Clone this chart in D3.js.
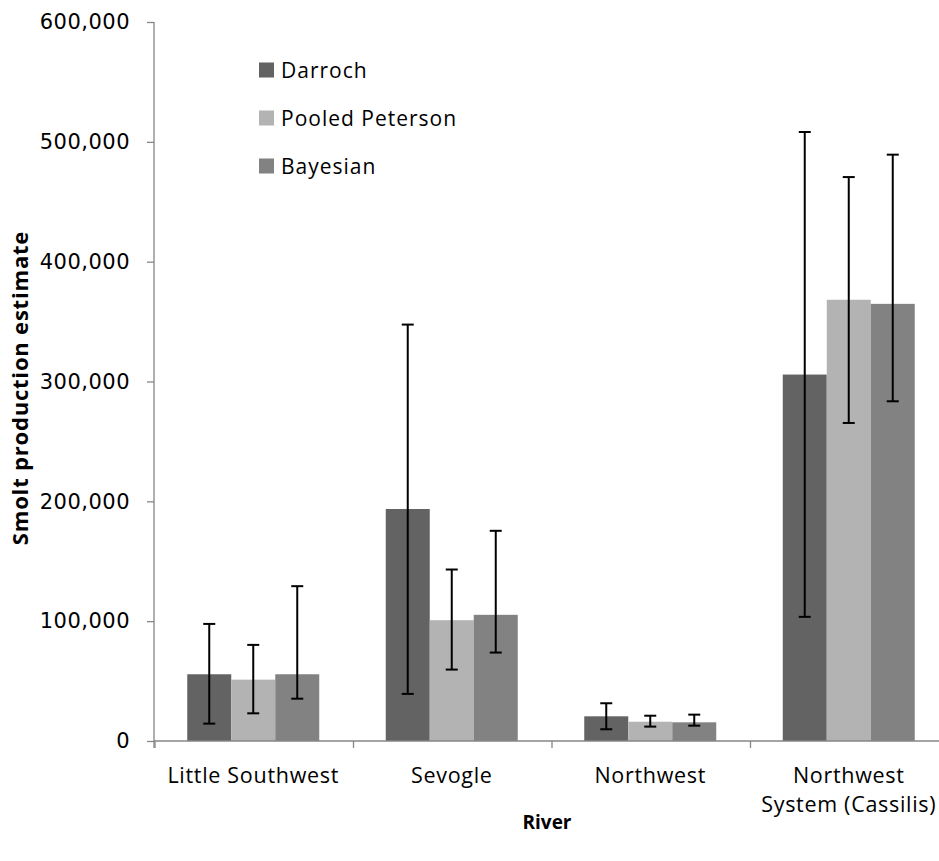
<!DOCTYPE html>
<html>
<head>
<meta charset="utf-8">
<script src="https://cdn.jsdelivr.net/npm/d3@7"></script>
<style>
  body { margin: 0; background: #fff; }
  text { fill: #000; }
</style>
</head>
<body>
<div class="container"></div>
<script>
let width = 939
let height = 861
let margin = { left: 154, right: -9, top: 22, bottom: 120 }

const rivers = ['Little Southwest', 'Sevogle', 'Northwest', 'Northwest System (Cassilis)']
const methods = ['Darroch', 'Pooled Peterson', 'Bayesian']
const colors = ['#636363', '#b3b3b3', '#828282']

// estimates per method, in river order
const darroch = [55700, 193600, 20600, 305800]
const pooled = [51200, 100800, 16100, 368200]
const bayesian = [55700, 105300, 15600, 364800]
// error bar limits
const darrochLow = [14500, 39300, 9800, 103600]
const darrochHigh = [97700, 347500, 31500, 508200]
const pooledLow = [23100, 59600, 12000, 265400]
const pooledHigh = [80200, 143100, 21100, 470600]
const bayesianLow = [35300, 73800, 12800, 283500]
const bayesianHigh = [129200, 175400, 22000, 489300]

const yTicks = [0, 100000, 200000, 300000, 400000, 500000, 600000]

const series = [
    { name: methods[0], values: darroch, low: darrochLow, high: darrochHigh },
    { name: methods[1], values: pooled, low: pooledLow, high: pooledHigh },
    { name: methods[2], values: bayesian, low: bayesianLow, high: bayesianHigh }
]

let svg = d3.select('.container')
    .append('svg')
    .attr('width', width)
    .attr('height', height)

let x = d3.scaleBand()
    .domain(rivers)
    .range([margin.left, width - margin.right])
    .paddingInner(0.335)
    .paddingOuter(0.1675)

let xInner = d3.scaleBand()
    .domain(methods)
    .range([0, x.bandwidth()])

let y = d3.scaleLinear()
    .domain([0, 600000])
    .range([height - margin.bottom, margin.top])

const axisColor = '#868686'
const fmt = d3.format(',')

// y axis
let yAxis = svg.append('g')
    .attr('transform', `translate(${margin.left},0)`)
    .call(d3.axisLeft(y).tickValues(yTicks).tickSize(7).tickPadding(17).tickFormat(fmt))
yAxis.select('.domain').attr('stroke', axisColor).attr('stroke-width', 1.3)
    .attr('d', `M0,${y(600000)}V${y(0) + 7}`)
yAxis.selectAll('.tick line').attr('stroke', axisColor).attr('stroke-width', 1.3)
yAxis.selectAll('.tick text')
    .style('font-family', 'DejaVu Sans')
    .style('font-size', '21px')
    .style('letter-spacing', '0.5px')
    .attr('fill', '#000')

// bars
let groups = svg.append('g')
    .selectAll('g')
    .data(series)
    .enter()
    .append('g')
    .attr('fill', (d, i) => colors[i])

groups.selectAll('rect')
    .data(d => d.values.map((v, i) => ({ name: d.name, river: rivers[i], v: v })))
    .enter()
    .append('rect')
    .attr('x', d => x(d.river) + xInner(d.name))
    .attr('y', d => y(d.v))
    .attr('width', xInner.bandwidth())
    .attr('height', d => y(0) - y(d.v))

// error bars
let errs = svg.append('g')
    .attr('stroke', '#000')
    .attr('stroke-width', 2)
    .selectAll('g')
    .data(series)
    .enter()
    .append('g')
    .selectAll('g')
    .data(d => d.values.map((v, i) => ({ name: d.name, river: rivers[i], lo: d.low[i], hi: d.high[i] })))
    .enter()
    .append('g')
    .attr('transform', d => `translate(${x(d.river) + xInner(d.name) + xInner.bandwidth() / 2},0)`)

errs.append('line')
    .attr('y1', d => y(d.lo)).attr('y2', d => y(d.hi))
errs.append('line')
    .attr('x1', -6).attr('x2', 6)
    .attr('y1', d => y(d.lo)).attr('y2', d => y(d.lo))
errs.append('line')
    .attr('x1', -6).attr('x2', 6)
    .attr('y1', d => y(d.hi)).attr('y2', d => y(d.hi))

// x axis
let xAxisG = svg.append('g')
    .attr('transform', `translate(0,${y(0)})`)
xAxisG.append('line')
    .attr('x1', margin.left).attr('x2', width - margin.right)
    .attr('stroke', axisColor).attr('stroke-width', 1.3)
xAxisG.selectAll('.sep')
    .data(rivers)
    .enter()
    .append('line')
    .attr('x1', d => x(d) - x.step() * x.paddingInner() / 2 + 1)
    .attr('x2', d => x(d) - x.step() * x.paddingInner() / 2 + 1)
    .attr('y1', 0).attr('y2', 7)
    .attr('stroke', axisColor).attr('stroke-width', 1.3)

let labels = xAxisG.selectAll('.lab')
    .data(rivers)
    .enter()
    .append('text')
    .attr('x', d => x(d) + x.bandwidth() / 2)
    .attr('y', 42)
    .attr('text-anchor', 'middle')
    .style('font-family', 'Open Sans')
    .style('font-size', '21.5px')
    .style('letter-spacing', '0.7px')

labels.each(function (d) {
    let t = d3.select(this)
    if (d === 'Northwest System (Cassilis)') {
        t.append('tspan').attr('x', x(d) + x.bandwidth() / 2).text('Northwest')
        t.append('tspan').attr('x', x(d) + x.bandwidth() / 2).attr('dy', 29).text('System (Cassilis)')
    } else {
        t.text(d)
    }
})

// axis titles
svg.append('text')
    .attr('x', 547)
    .attr('y', 829)
    .attr('text-anchor', 'middle')
    .style('font-family', 'Open Sans')
    .style('font-weight', 'bold')
    .style('font-size', '19px')
    .text('River')

svg.append('text')
    .attr('transform', 'translate(28,388) rotate(-90)')
    .attr('text-anchor', 'middle')
    .style('font-family', 'Open Sans')
    .style('font-weight', 'bold')
    .style('font-size', '22px')
    .style('letter-spacing', '0.8px')
    .text('Smolt production estimate')

// legend
let legend = svg.append('g')
    .selectAll('g')
    .data(methods)
    .enter()
    .append('g')
    .attr('transform', (d, i) => `translate(259,${70 + i * 48})`)

legend.append('rect')
    .attr('x', 0).attr('y', -7.5)
    .attr('width', 15).attr('height', 15)
    .attr('fill', (d, i) => colors[i])

legend.append('text')
    .attr('x', 22)
    .attr('y', 7.5)
    .style('font-family', 'Open Sans')
    .style('font-size', '21px')
    .style('letter-spacing', '1px')
    .text(d => d)
</script>
</body>
</html>
